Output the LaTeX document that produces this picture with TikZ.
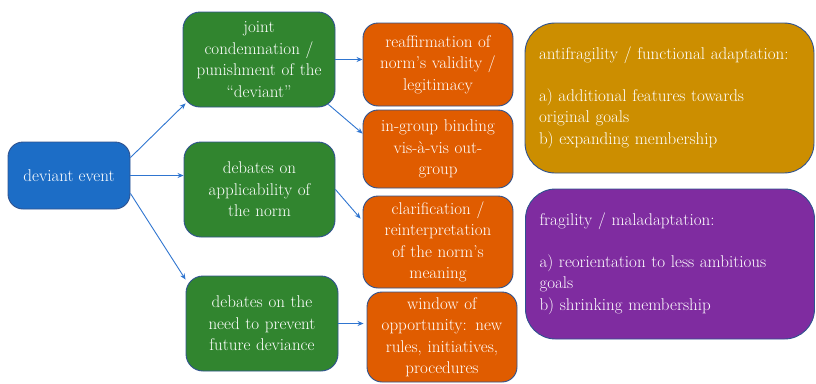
\documentclass[tikz,border=0pt]{standalone}
\usepackage{fontspec}
\usetikzlibrary{calc,arrows.meta}
\definecolor{cblue}{RGB}{28,109,198}
\definecolor{cgreen}{RGB}{49,133,47}
\definecolor{corange}{RGB}{224,92,0}
\definecolor{cgold}{RGB}{204,142,0}
\definecolor{cpurple}{RGB}{127,44,160}
\definecolor{cborder}{RGB}{47,82,143}
\definecolor{carrow}{RGB}{47,117,208}
\tikzset{
  basebox/.style={draw=cborder, line width=0.9pt, text=white, inner sep=0pt,
    align=center, font=\fontsize{17}{21.5}\selectfont,
    execute at begin node={\hyphenpenalty=10000\exhyphenpenalty=10000\hbadness=10000\hfuzz=20pt}},
  bluebox/.style={basebox, fill=cblue, rounded corners=15pt},
  greenbox/.style={basebox, fill=cgreen, rounded corners=17pt, text width=148pt},
  orangebox/.style={basebox, fill=corange, rounded corners=15pt, text width=148pt},
  bigbox/.style={basebox, rounded corners=30pt, align=left, text width=261pt,
    inner xsep=14pt, inner ysep=0pt, minimum width=289pt, minimum height=150pt},
  conn/.style={draw=carrow, line width=0.9pt, -{Stealth[length=6pt,width=5pt]}}
}
\begin{document}
\begin{tikzpicture}[x=1pt,y=-1pt]
\useasboundingbox (0,0) rectangle (816,383);
\node[bluebox, minimum width=122pt, minimum height=67pt] (dev) at (69,175.5) {deviant event};
\node[greenbox, minimum width=152pt, minimum height=95pt] (g1) at (259,59.5)
  {joint\\condemnation /\\punishment of the\\“deviant”};
\node[greenbox, minimum width=151pt, minimum height=95pt] (g2) at (259.5,189.5)
  {debates on\\applicability of\\the norm};
\node[greenbox, minimum width=152pt, minimum height=95pt] (g3) at (262,323.5)
  {debates on the\\need to prevent\\future deviance};
\node[orangebox, minimum width=150pt, minimum height=83pt] (o1) at (438,64.5)
  {reaffirmation of\\norm’s validity /\\legitimacy};
\node[orangebox, minimum width=150pt, minimum height=78pt] (o2) at (438,149)
  {in-group binding\\vis-à-vis out-\\group};
\node[orangebox, minimum width=150pt, minimum height=92pt] (o3) at (438,242)
  {clarification /\\reinterpretation\\of the norm’s\\meaning};
\node[orangebox, minimum width=150pt, minimum height=90pt] (o4) at (442,337)
  {window of\\opportunity: new\\rules, initiatives,\\procedures};
\node[bigbox, fill=cgold] (gold) at (669.5,98)
  {antifragility / functional adaptation:\\[20pt]a) additional features towards\\original goals\\b) expanding membership\\[4pt]};
\node[bigbox, fill=cpurple] (purple) at (670,264)
  {fragility / maladaptation:\\[20pt]a) reorientation to less ambitious\\goals\\b) shrinking membership};
\draw[conn] ($(dev.north east)+(0,16)$) -- ($(g1.south west)+(3,-4)$);
\draw[conn] (dev.east) -- (dev.east -| g2.west);
\draw[conn] ($(dev.south east)+(0,-16)$) -- ($(g3.north west)+(0,4)$);
\draw[conn] (g1.east) -- (g1.east -| o1.west);
\draw[conn] ($(g1.south east)+(-7,-3)$) -- ($(o2.north west)+(0,24)$);
\draw[conn] (g2.east) -- ($(o3.north west)+(-2,23)$);
\draw[conn] (g3.east) -- ($(g3.east -| o4.west)+(-3,0)$);
\end{tikzpicture}
\end{document}
